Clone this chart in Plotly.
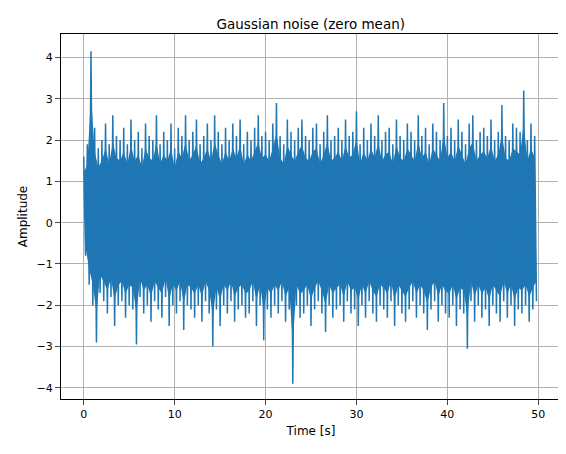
import plotly.graph_objects as go

highs = [1.6,1.9,4.15,2.3,1.8,2.0,2.4,1.9,2.6,2.1,
 2.0,2.3,1.9,2.5,2.0,2.2,1.8,2.4,2.1,2.0,
 2.6,1.9,2.2,2.0,2.4,1.8,2.3,2.1,2.6,2.0,
 2.2,2.5,1.9,2.1,2.4,2.0,2.6,2.2,1.9,2.3,
 2.0,2.4,2.1,2.5,1.9,2.2,2.0,2.3,2.6,2.1,
 2.2,2.0,2.4,2.9,2.1,1.9,2.5,2.2,2.0,2.3,
 2.5,2.1,2.0,2.3,2.4,1.9,2.2,2.6,2.0,2.1,
 2.3,2.0,2.5,2.1,2.2,2.7,1.9,2.3,2.0,2.4,
 2.1,2.6,2.0,2.2,2.3,1.9,2.5,2.1,2.0,2.4,
 2.2,2.0,2.6,2.1,2.3,1.9,2.4,2.2,2.0,2.9,
 2.1,2.3,2.0,2.5,2.2,1.9,2.4,2.6,2.0,2.2,
 2.3,2.1,2.5,2.0,2.2,2.85,2.1,2.0,2.4,2.3,
 2.2,3.2,2.0,2.4,2.1]
lows = [-0.8,-1.5,-2.0,-2.9,-1.7,-1.9,-2.2,-1.8,-2.5,-2.0,
 -1.9,-2.3,-2.0,-2.1,-2.95,-1.8,-2.2,-2.0,-2.4,-1.9,
 -2.1,-2.3,-1.8,-2.5,-2.0,-2.2,-1.9,-2.6,-2.0,-2.1,
 -2.3,-2.0,-2.4,-1.9,-2.2,-3.0,-2.1,-2.5,-2.0,-2.2,
 -1.9,-2.4,-2.1,-2.0,-2.3,-2.2,-1.9,-2.5,-2.0,-2.85,
 -2.1,-2.3,-2.0,-2.2,-1.9,-2.4,-2.1,-3.9,-2.0,-2.3,
 -2.2,-2.0,-2.5,-2.1,-1.9,-2.2,-2.65,-2.0,-2.3,-2.1,
 -2.0,-2.4,-1.9,-2.2,-2.1,-2.5,-2.0,-2.3,-1.9,-2.2,
 -2.4,-2.0,-2.1,-2.3,-1.9,-2.5,-2.0,-2.2,-2.4,-2.1,
 -1.9,-2.3,-2.0,-2.2,-2.6,-2.1,-1.9,-2.4,-2.0,-2.2,
 -2.3,-2.0,-2.5,-2.1,-2.2,-3.05,-1.9,-2.4,-2.0,-2.3,
 -2.1,-2.5,-2.0,-2.2,-2.4,-1.9,-2.3,-2.0,-2.5,-2.1,
 -2.2,-2.0,-2.4,-2.1,-1.9]
step = 0.4
C = "#1f77b4"

t, y = [], []
for i, (h, l) in enumerate(zip(highs, lows)):
    t += [i*step, i*step + step/2]
    y += [h, l]
th = [i*step for i in range(len(highs))]
tl = [i*step + step/2 for i in range(len(lows))]

fig = go.Figure()
fig.add_trace(go.Scatter(x=th, y=[h*0.75 for h in highs], mode="lines",
                         line=dict(color=C, width=0), hoverinfo="skip"))
fig.add_trace(go.Scatter(x=tl, y=[l*0.75 for l in lows], mode="lines", fill="tonexty",
                         fillcolor=C, line=dict(color=C, width=0), hoverinfo="skip"))
fig.add_trace(go.Scatter(x=t, y=y, mode="lines", line=dict(color=C, width=1.5)))
ax = dict(showline=True, linecolor="black", mirror=True, ticks="outside",
          showgrid=True, gridcolor="#b0b0b0", zeroline=False,
          tickfont=dict(size=11, color="black"))
fig.update_layout(
    width=566, height=454, plot_bgcolor="white", paper_bgcolor="white",
    margin=dict(l=53, r=13, t=26, b=63), showlegend=False,
    font=dict(family="DejaVu Sans", color="black"),
    title=dict(text="Gaussian noise (zero mean)", x=0.535, y=0.975, font=dict(size=13.5)),
    xaxis=dict(ax, range=[-2.5, 52.5], dtick=10,
               title=dict(text="Time [s]", font=dict(size=12), standoff=6)),
    yaxis=dict(ax, range=[-4.27, 4.57], dtick=1,
               title=dict(text="Amplitude", font=dict(size=12), standoff=6)),
)
fig.write_html("out.html")
